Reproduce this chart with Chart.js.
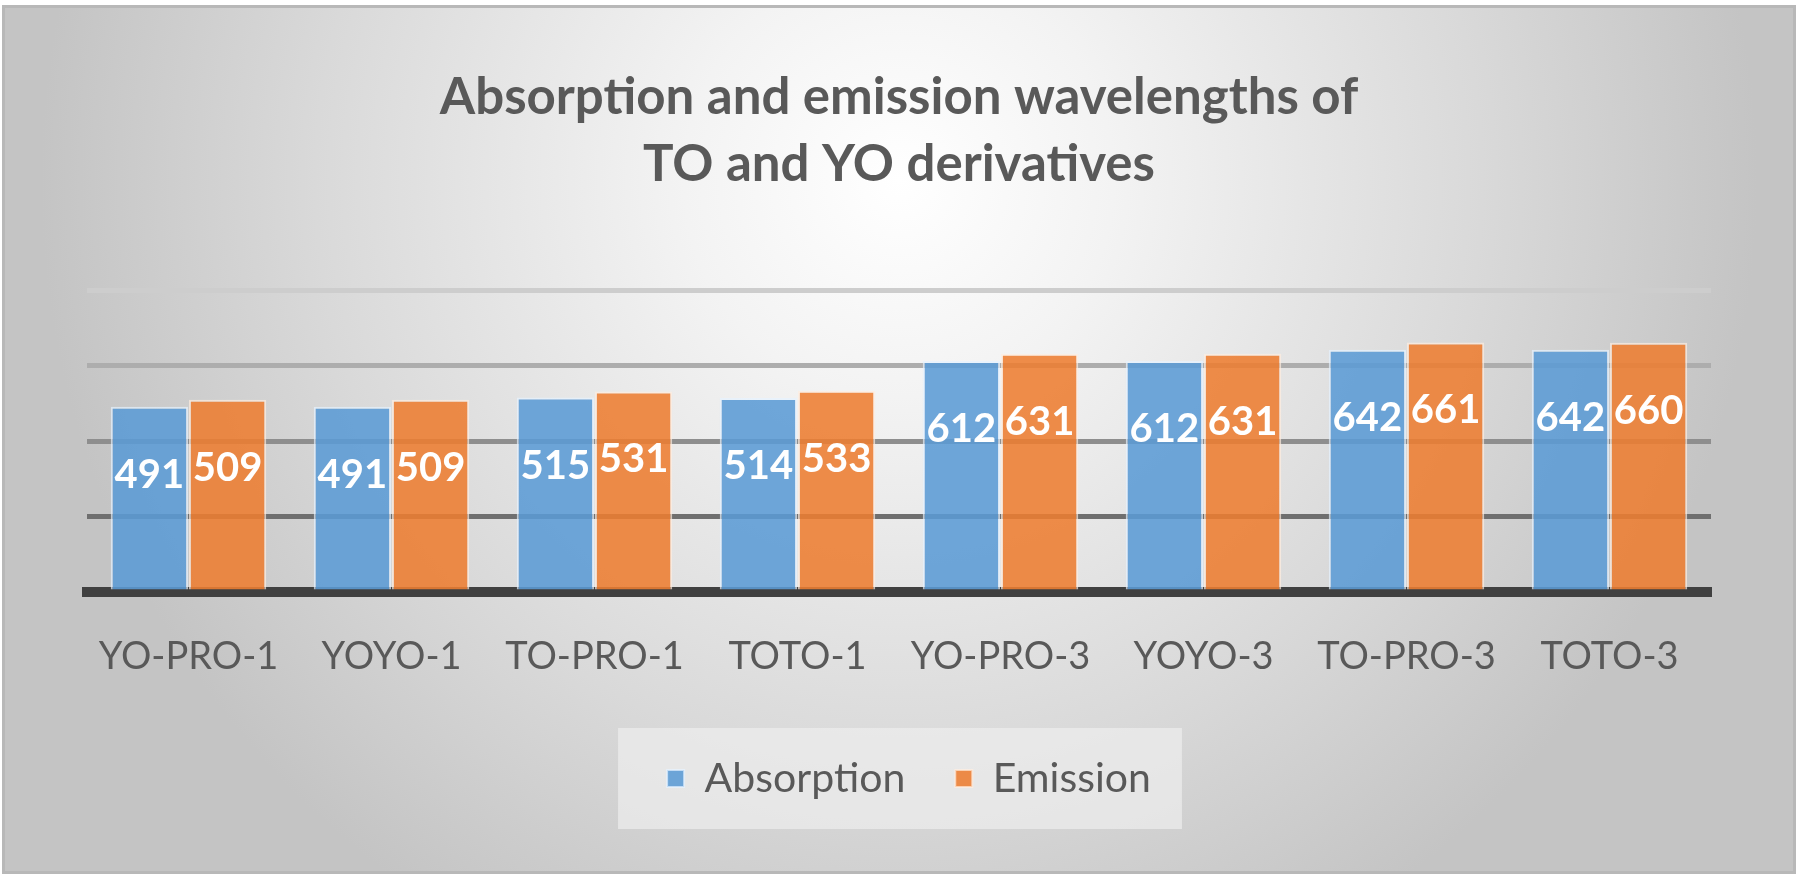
<!DOCTYPE html>
<html>
<head>
<meta charset="utf-8">
<script src="https://cdn.jsdelivr.net/npm/chart.js@4.4.1/dist/chart.umd.min.js"></script>
<style>
  html, body { margin: 0; padding: 0; background: #ffffff; overflow: hidden; }
  #frame {
    position: absolute; left: 2px; top: 5px; width: 1794px; height: 869px;
    box-sizing: border-box; border: 3px solid #b8b8b8;
    background: radial-gradient(ellipse 48% 100% at 50% 20%, #ffffff 0%, #f3f3f3 25%, #d9d9d9 68%, #c4c4c4 100%);
  }
  #chart { position: absolute; left: 0; top: 0; width: 1800px; height: 878px; }
</style>
</head>
<body>
<div id="frame"></div>
<canvas id="chart" width="1800" height="878"></canvas>
<script>
// ---- data ----
const compounds = ["YO-PRO-1", "YOYO-1", "TO-PRO-1", "TOTO-1", "YO-PRO-3", "YOYO-3", "TO-PRO-3", "TOTO-3"];
const absorption = [491, 491, 515, 514, 612, 612, 642, 642];
const emission = [509, 509, 531, 533, 631, 631, 661, 660];
const titleLines = ["Absorption and emission wavelengths of", "TO and YO derivatives"];

// gridline shades, bottom (0) to top (800)
const gridShades = ["rgba(0,0,0,0)", "#6f6f6f", "#8e8e8e", "#adadad", "#cdcdcd"];

const FONT = "Lato, 'Open Sans', sans-serif";
const TEXT_GREY = "#595959";
const LEGEND_SHIFT = 10; // legend sits a little right of the plot centre

// white value labels drawn inside each bar, a fixed distance below its top
const barValueLabels = {
  id: "barValueLabels",
  afterDatasetsDraw(chart) {
    const ctx = chart.ctx;
    ctx.save();
    ctx.font = "bold 40px " + FONT;
    ctx.fillStyle = "#ffffff";
    ctx.textAlign = "center";
    ctx.textBaseline = "middle";
    chart.data.datasets.forEach((ds, i) => {
      chart.getDatasetMeta(i).data.forEach((bar, j) => {
        ctx.fillText(String(ds.data[j]), bar.x, bar.y + 68);
      });
    });
    ctx.restore();
  }
};

// lighter panel behind the legend items
const legendPanel = {
  id: "legendPanel",
  afterLayout(chart) {
    const lg = chart.legend;
    if (!lg) return;
    lg.left += LEGEND_SHIFT;
    lg.right += LEGEND_SHIFT;
    (lg.legendHitBoxes || []).forEach(h => { h.left += LEGEND_SHIFT; });
  },
  beforeDraw(chart) {
    const boxes = chart.legend && chart.legend.legendHitBoxes;
    if (!boxes || !boxes.length) return;
    let l = Infinity, r = -Infinity, t = Infinity, b = -Infinity;
    boxes.forEach(h => {
      l = Math.min(l, h.left); r = Math.max(r, h.left + h.width);
      t = Math.min(t, h.top); b = Math.max(b, h.top + h.height);
    });
    const ctx = chart.ctx;
    ctx.save();
    ctx.fillStyle = "rgba(238,238,238,0.7)";
    ctx.fillRect(l - 49, t - 30, (r - l) + 80, (b - t) + 60);
    ctx.restore();
  }
};

new Chart(document.getElementById("chart"), {
  type: "bar",
  data: {
    labels: compounds,
    datasets: [
      {
        label: "Absorption",
        data: absorption,
        backgroundColor: "rgba(91,155,213,0.88)",
        borderColor: "rgba(230,242,255,0.7)",
        borderWidth: 2
      },
      {
        label: "Emission",
        data: emission,
        backgroundColor: "rgba(237,125,49,0.88)",
        borderColor: "rgba(255,236,222,0.7)",
        borderWidth: 2
      }
    ]
  },
  options: {
    responsive: false,
    animation: false,
    devicePixelRatio: 1,
    layout: { padding: { left: 87, right: 89, bottom: 69 } },
    datasets: { bar: { categoryPercentage: 0.77, barPercentage: 0.99 } },
    scales: {
      x: {
        z: 1,
        grid: { display: false },
        border: { display: true, color: "#404040", width: 10 },
        ticks: { color: TEXT_GREY, font: { family: FONT, size: 38 }, padding: 34 },
        afterFit: scale => { scale.height = 116; }
      },
      y: {
        min: 0,
        max: 800,
        ticks: { display: false, stepSize: 200 },
        border: { display: false },
        grid: {
          drawTicks: false,
          lineWidth: 5,
          color: ctx => gridShades[ctx.index] || "#cdcdcd"
        }
      }
    },
    plugins: {
      title: {
        display: true,
        text: titleLines,
        color: TEXT_GREY,
        font: { family: FONT, size: 51, weight: "bold", lineHeight: 1.314 },
        padding: { top: 64.5, bottom: 91.5 }
      },
      legend: {
        position: "bottom",
        labels: {
          color: TEXT_GREY,
          font: { family: FONT, size: 41 },
          boxWidth: 17,
          boxHeight: 17,
          padding: 50
        }
      },
      tooltip: { enabled: false }
    }
  },
  plugins: [barValueLabels, legendPanel]
});
</script>
</body>
</html>
